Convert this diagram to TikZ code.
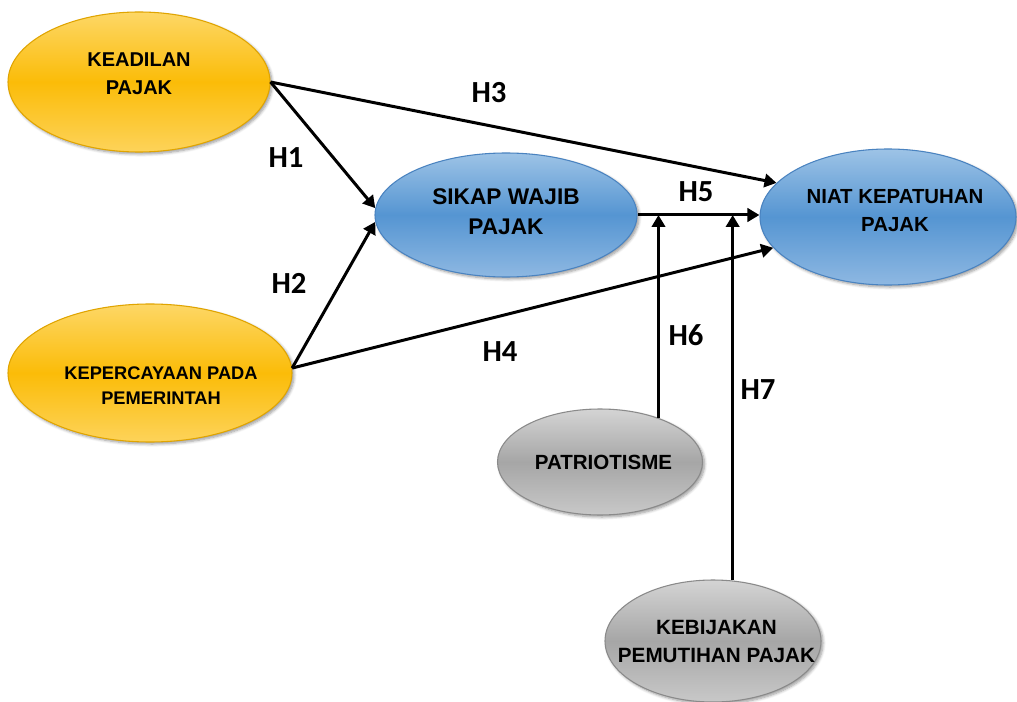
\documentclass[tikz,border=0pt]{standalone}
\usepackage{fontspec}
\setmainfont{Liberation Sans}
\newfontfamily\hfont{Carlito}
\usepackage{tikz}
\usetikzlibrary{shapes.geometric,arrows.meta,shadows.blur}

\definecolor{yelTop}{HTML}{FDD766}
\definecolor{yelMid}{HTML}{FBBC08}
\definecolor{yelBot}{HTML}{FDD35A}
\definecolor{yelLine}{HTML}{E0A400}
\definecolor{bluTop}{HTML}{9DC3E6}
\definecolor{bluMid}{HTML}{5595D2}
\definecolor{bluBot}{HTML}{8EB8E2}
\definecolor{bluLine}{HTML}{4A83C0}
\definecolor{gryTop}{HTML}{D4D4D4}
\definecolor{gryMid}{HTML}{A6A6A6}
\definecolor{gryBot}{HTML}{C8C8C8}
\definecolor{gryLine}{HTML}{8A8A8A}

\begin{document}
\begin{tikzpicture}[x=0.75pt,y=0.75pt,yscale=-1,xscale=1,
  var/.style={ellipse,inner sep=0pt,line width=0.8pt,
    blur shadow={shadow xshift=1.5pt,shadow yshift=-1.5pt,shadow blur steps=6}},
  yel/.style={var,draw=yelLine,top color=yelTop,bottom color=yelBot,middle color=yelMid},
  blu/.style={var,draw=bluLine,top color=bluTop,bottom color=bluBot,middle color=bluMid},
  gry/.style={var,draw=gryLine,top color=gryTop,bottom color=gryBot,middle color=gryMid},
  txt/.style={align=center,inner sep=0pt},
  hyp/.style={font=\hfont\bfseries\fontsize{23}{23}\selectfont,inner sep=0pt},
  link/.style={line width=2.25pt,-{Triangle[length=9pt,width=10pt]}}]
\useasboundingbox (0,0) rectangle (1017,702);

% variables
\node (kea) [yel,minimum width=196.5pt,minimum height=105pt] at (139,82) {};
\node (kep) [yel,minimum width=213pt,minimum height=103.5pt] at (150,373) {};
\node (sik) [blu,minimum width=196.5pt,minimum height=93pt] at (506,215) {};
\node (niat) [blu,minimum width=192pt,minimum height=102pt] at (888,217) {};
\node (pat) [gry,minimum width=153.75pt,minimum height=79.5pt] at (600,462) {};
\node (keb) [gry,minimum width=162pt,minimum height=91.5pt] at (713,641) {};

% variable names
\node (keaT) [txt,font=\bfseries\fontsize{15}{21}\selectfont] at (139,74) {KEADILAN\\PAJAK};
\node (kepT) [txt,font=\bfseries\fontsize{13.7}{18.75}\selectfont] at (161,386) {KEPERCAYAAN PADA\\PEMERINTAH};
\node (sikT) [txt,font=\bfseries\fontsize{17}{22.5}\selectfont] at (506,211.5) {SIKAP WAJIB\\PAJAK};
\node (niatT) [txt,font=\bfseries\fontsize{15.3}{21}\selectfont] at (895,211) {NIAT KEPATUHAN\\PAJAK};
\node (patT) [txt,font=\bfseries\fontsize{15.4}{20}\selectfont] at (603.5,462.5) {PATRIOTISME};
\node (kebT) [txt,font=\bfseries\fontsize{15.5}{21}\selectfont] at (716.5,641.5) {KEBIJAKAN\\PEMUTIHAN PAJAK};

% paths
\draw [link] (kea.east) -- (sik.177);
\draw [link] (kep.2) -- (sik.183);
\draw [link] (kea.east) -- (niat.163);
\draw [link] (kep.2) -- (niat.195);
\draw [link] (sik.east) -- (sik.east -| niat.west);
\draw [link] (pat.37) -- (pat.37 |- sik.east);
\draw [link] (keb.72) -- (keb.72 |- sik.east);

% hypothesis labels
\node (h1) [hyp] at (286,158) {H1};
\node (h2) [hyp] at (289,283) {H2};
\node (h3) [hyp] at (489,93) {H3};
\node (h4) [hyp] at (500,352) {H4};
\node (h5) [hyp] at (696,192) {H5};
\node (h6) [hyp] at (686,335) {H6};
\node (h7) [hyp] at (758,390) {H7};

\end{tikzpicture}
\end{document}
